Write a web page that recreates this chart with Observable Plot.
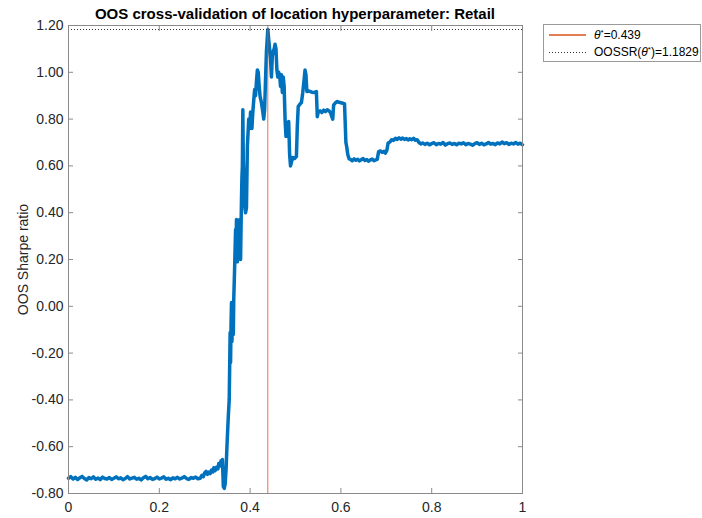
<!DOCTYPE html>
<html>
<head>
<meta charset="utf-8">
<script src="https://cdn.jsdelivr.net/npm/d3@7"></script>
<script src="https://cdn.jsdelivr.net/npm/@observablehq/plot@0.6"></script>
<style>
  body { margin: 0; background: #fff; }
  #chart { position: relative; width: 702px; height: 518px; font-family: "Liberation Sans", Arial, Helvetica, sans-serif; color: #262626; }
  #title { position: absolute; left: 40px; width: 510px; top: 5px; text-align: center; font-weight: bold; font-size: 15px; line-height: 18px; color: #000; white-space: nowrap; }
  #legend { position: absolute; left: 543px; top: 24px; width: 156px; height: 36px; border: 1px solid #9a9a9a; background: #fff; font-size: 12px; color: #000; }
  .row { position: absolute; left: 0; height: 16px; line-height: 16px; width: 100%; }
  .row span { position: absolute; left: 50px; top: 0; white-space: nowrap; }
  .row sup { font-size: 8px; vertical-align: 4px; line-height: 0; }
  #legend-lines { position: absolute; left: 0; top: 0; }
</style>
</head>
<body>
<div id="chart">
  <div id="title"></div>
  <div id="legend"></div>
</div>
<script>
// Out-of-sample Sharpe ratio across the location hyperparameter grid: [theta, OOS SR]
const sharpeCurve = [
  [0.000,-0.735],[0.005,-0.728],[0.010,-0.738],[0.015,-0.731],[0.020,-0.740],[0.025,-0.733],
  [0.030,-0.727],[0.035,-0.736],[0.040,-0.742],[0.045,-0.732],[0.050,-0.737],[0.055,-0.729],
  [0.060,-0.739],[0.065,-0.734],[0.070,-0.741],[0.075,-0.730],[0.080,-0.736],[0.085,-0.738],
  [0.090,-0.732],[0.095,-0.740],[0.100,-0.735],[0.105,-0.729],[0.110,-0.737],[0.115,-0.733],
  [0.120,-0.741],[0.125,-0.736],[0.130,-0.728],[0.135,-0.738],[0.140,-0.734],[0.145,-0.731],
  [0.150,-0.739],[0.155,-0.735],[0.160,-0.742],[0.165,-0.733],[0.170,-0.727],[0.175,-0.737],
  [0.180,-0.732],[0.185,-0.740],[0.190,-0.736],[0.195,-0.730],[0.200,-0.738],[0.205,-0.734],
  [0.210,-0.729],[0.215,-0.739],[0.220,-0.735],[0.225,-0.741],[0.230,-0.733],[0.235,-0.737],
  [0.240,-0.731],[0.245,-0.738],[0.250,-0.734],[0.255,-0.728],[0.260,-0.736],[0.265,-0.740],
  [0.270,-0.732],[0.275,-0.735],[0.280,-0.730],[0.285,-0.737],
  [0.290,-0.735],[0.294,-0.722],[0.297,-0.728],[0.300,-0.712],[0.303,-0.705],[0.306,-0.718],
  [0.309,-0.709],[0.312,-0.715],[0.315,-0.700],[0.318,-0.708],[0.320,-0.690],[0.323,-0.702],
  [0.326,-0.688],[0.329,-0.695],[0.331,-0.672],[0.334,-0.682],[0.336,-0.660],[0.338,-0.672],
  [0.339,-0.655],[0.341,-0.770],[0.343,-0.778],[0.345,-0.760],[0.347,-0.700],
  [0.349,-0.600],[0.352,-0.470],[0.354,-0.400],[0.355,-0.257],[0.356,-0.112],[0.357,-0.240],
  [0.358,-0.080],[0.359,0.016],[0.360,-0.150],[0.361,-0.060],[0.362,0.010],[0.363,-0.120],
  [0.364,0.030],[0.366,0.170],[0.368,0.328],[0.369,0.250],[0.370,0.371],[0.372,0.190],
  [0.374,0.360],[0.375,0.210],[0.377,0.371],[0.379,0.200],[0.381,0.456],[0.382,0.550],
  [0.383,0.600],[0.384,0.840],[0.385,0.620],[0.386,0.560],[0.388,0.430],[0.390,0.400],
  [0.392,0.420],[0.394,0.683],[0.397,0.800],[0.399,0.760],[0.401,0.830],[0.404,0.760],
  [0.406,0.830],[0.408,0.880],[0.410,0.926],[0.412,0.900],[0.414,0.960],[0.416,1.010],
  [0.418,1.000],[0.420,0.940],[0.422,0.897],[0.425,0.870],[0.428,0.830],[0.430,0.800],
  [0.432,0.840],[0.434,0.970],[0.436,1.090],[0.439,1.1829],[0.441,1.140],[0.443,1.100],
  [0.445,1.055],[0.447,0.980],[0.449,1.070],[0.451,1.090],[0.453,1.100],[0.455,1.120],
  [0.457,1.100],[0.459,1.010],[0.461,0.980],[0.463,1.000],[0.465,0.990],[0.467,0.940],
  [0.469,0.990],[0.471,0.914],[0.473,0.980],[0.475,0.940],[0.477,0.800],[0.479,0.726],
  [0.481,0.770],[0.483,0.726],[0.485,0.790],[0.487,0.650],[0.489,0.600],[0.491,0.615],
  [0.494,0.636],[0.498,0.632],[0.502,0.640],[0.504,0.770],[0.506,0.854],[0.510,0.865],
  [0.513,0.870],[0.516,0.914],[0.519,0.970],[0.521,1.010],[0.523,0.990],[0.525,0.918],
  [0.530,0.920],[0.536,0.915],[0.542,0.914],[0.546,0.918],[0.548,0.810],[0.550,0.830],
  [0.554,0.835],[0.558,0.828],[0.562,0.838],[0.566,0.832],[0.570,0.840],[0.574,0.835],
  [0.577,0.828],[0.580,0.810],[0.582,0.800],[0.584,0.860],[0.588,0.870],[0.592,0.875],
  [0.596,0.872],[0.600,0.870],[0.604,0.868],[0.608,0.865],[0.611,0.700],[0.613,0.680],
  [0.615,0.650],[0.618,0.630],[0.621,0.628],
  [0.625,0.622],[0.629,0.630],[0.633,0.624],[0.637,0.628],[0.641,0.621],[0.645,0.627],
  [0.649,0.631],[0.653,0.623],[0.657,0.627],[0.661,0.620],[0.665,0.626],[0.669,0.629],
  [0.673,0.622],[0.677,0.626],[0.680,0.628],
  [0.683,0.660],[0.687,0.664],[0.691,0.658],[0.695,0.662],[0.698,0.655],[0.701,0.665],
  [0.704,0.698],[0.708,0.702],[0.712,0.712],[0.716,0.709],[0.720,0.718],[0.724,0.713],
  [0.728,0.720],[0.732,0.714],[0.736,0.719],[0.740,0.713],[0.744,0.717],[0.748,0.711],
  [0.752,0.716],[0.756,0.712],[0.760,0.718],[0.764,0.710],[0.768,0.712],
  [0.772,0.700],[0.776,0.694],[0.780,0.698],
  [0.785,0.692],[0.790,0.697],[0.795,0.690],[0.800,0.695],[0.805,0.699],[0.810,0.691],
  [0.815,0.696],[0.820,0.693],[0.825,0.700],[0.830,0.689],[0.835,0.695],[0.840,0.698],
  [0.845,0.692],[0.850,0.696],[0.855,0.690],[0.860,0.697],[0.865,0.694],[0.870,0.699],
  [0.875,0.691],[0.880,0.696],[0.885,0.693],[0.890,0.688],[0.895,0.695],[0.900,0.699],
  [0.905,0.692],[0.910,0.697],[0.915,0.690],[0.920,0.694],[0.925,0.700],[0.930,0.693],
  [0.935,0.696],[0.940,0.691],[0.945,0.698],[0.950,0.694],[0.955,0.702],[0.960,0.695],
  [0.965,0.699],[0.970,0.692],[0.975,0.697],[0.980,0.694],[0.985,0.700],[0.990,0.693],
  [0.995,0.697],[1.000,0.690]
];

// Optimal location hyperparameter and its OOS Sharpe ratio
const thetaStar = 0.439;
const oossrStar = 1.1829;

// Axis ticks
const xTicks = [0, 0.2, 0.4, 0.6, 0.8, 1];
const yTicks = [-0.8, -0.6, -0.4, -0.2, 0, 0.2, 0.4, 0.6, 0.8, 1.0, 1.2];

const titleText = "OOS cross-validation of location hyperparameter: Retail";
const yLabel = "OOS Sharpe ratio";

const axisGray = "#8a8a8a";
const blue = "#0072BD";
const orange = "#D95319";

const data = sharpeCurve.map(([theta, sr]) => ({theta, sr}));

const chart = Plot.plot({
  width: 702,
  height: 518,
  marginLeft: 68,
  marginRight: 180,
  marginTop: 25,
  marginBottom: 25,
  style: {fontFamily: "'Liberation Sans', Arial, Helvetica, sans-serif", fontSize: "14px", color: "#262626", background: "transparent"},
  x: {domain: [0, 1]},
  y: {domain: [-0.8, 1.2]},
  marks: [
    Plot.line(data, {x: "theta", y: "sr", stroke: blue, strokeWidth: 3.5, strokeLinejoin: "round", strokeLinecap: "round"}),
    Plot.ruleX([thetaStar], {stroke: orange, strokeOpacity: 0.8, strokeWidth: 1}),
    Plot.ruleY([oossrStar], {stroke: "#333", strokeWidth: 1, strokeDasharray: "1,2"}),
    Plot.frame({stroke: axisGray}),
    Plot.axisX({ticks: xTicks, tickFormat: d => String(+d.toFixed(1)), tickSize: -5, tickPadding: 14, label: null, stroke: axisGray, fill: "#262626"}),
    Plot.axisX({anchor: "top", ticks: xTicks, tickFormat: () => "", tickSize: -5, label: null, stroke: axisGray}),
    Plot.axisY({ticks: yTicks, tickFormat: d => d.toFixed(2), tickSize: -5, tickPadding: 10, label: yLabel, labelAnchor: "center", labelOffset: 50, labelArrow: "none", stroke: axisGray, fill: "#262626"}),
    Plot.axisY({anchor: "right", ticks: yTicks, tickFormat: () => "", tickSize: -5, label: null, stroke: axisGray})
  ]
});

const container = document.getElementById("chart");
container.insertBefore(chart, container.firstChild);
chart.style.position = "absolute";
chart.style.left = "0";
chart.style.top = "0";

document.getElementById("title").textContent = titleText;

// Legend entries: line samples in one small SVG, labels as HTML text
const legendItems = [
  {kind: "theta", stroke: orange, dash: null, width: 1.3},
  {kind: "oossr", stroke: "#333", dash: "1,2", width: 1}
];
const legend = d3.select("#legend");
const sampleSvg = legend.append("svg").attr("id", "legend-lines").attr("width", 46).attr("height", 36);
legendItems.forEach((item, i) => {
  const yy = 10 + i * 17.5;
  const ln = sampleSvg.append("line")
    .attr("x1", 5).attr("x2", 42).attr("y1", yy).attr("y2", yy)
    .style("stroke", item.stroke).style("stroke-width", item.width + "px");
  if (item.dash) ln.style("stroke-dasharray", item.dash);

  const row = legend.append("div").attr("class", "row").style("top", (2 + i * 17) + "px");
  const span = row.append("span");
  if (item.kind === "theta") {
    span.append("i").text("θ");
    span.append("sup").text("*");
    span.append("span").style("position", "static").text("=" + thetaStar);
  } else {
    span.append("span").style("position", "static").text("OOSSR(");
    span.append("i").text("θ");
    span.append("sup").text("*");
    span.append("span").style("position", "static").text(")=" + oossrStar);
  }
});
</script>
</body>
</html>
